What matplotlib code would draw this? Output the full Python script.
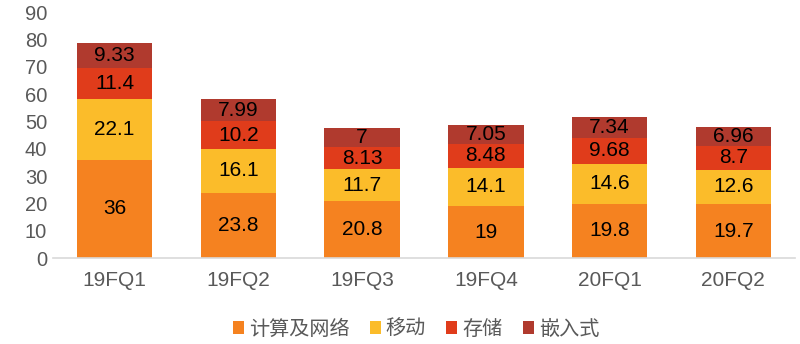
import matplotlib
matplotlib.use("Agg")
import matplotlib.pyplot as plt
import numpy as np

plt.rcParams['font.family'] = ['Liberation Sans', 'Noto Sans CJK SC', 'DejaVu Sans']

categories = ["19FQ1", "19FQ2", "19FQ3", "19FQ4", "20FQ1", "20FQ2"]
series_names = ["计算及网络", "移动", "存储", "嵌入式"]
compute = [36, 23.8, 20.8, 19, 19.8, 19.7]
mobile = [22.1, 16.1, 11.7, 14.1, 14.6, 12.6]
storage = [11.4, 10.2, 8.13, 8.48, 9.68, 8.7]
embedded = [9.33, 7.99, 7, 7.05, 7.34, 6.96]
label_texts = [
    ["36", "23.8", "20.8", "19", "19.8", "19.7"],
    ["22.1", "16.1", "11.7", "14.1", "14.6", "12.6"],
    ["11.4", "10.2", "8.13", "8.48", "9.68", "8.7"],
    ["9.33", "7.99", "7", "7.05", "7.34", "6.96"],
]
colors = ["#F58220", "#FBBC2A", "#E03C1B", "#B03A2E"]

fig = plt.figure(figsize=(8, 3.44), dpi=100)
ax = fig.add_axes([0.066, 0.25, 0.928, 0.715])

x = np.arange(len(categories))
bottom = np.zeros(len(categories))
handles = []
for vals, name, col, texts in zip([compute, mobile, storage, embedded], series_names, colors, label_texts):
    vals = np.array(vals, dtype=float)
    b = ax.bar(x, vals, width=0.61, bottom=bottom, color=col, label=name, linewidth=0)
    handles.append(b)
    for xi, v, bo, t in zip(x, vals, bottom, texts):
        ax.text(xi, bo + v / 2, t, ha="center", va="center", fontsize=15, color="black")
    bottom += vals

ax.set_ylim(0, 90)
ax.set_xlim(-0.5, len(categories) - 0.5)
ax.set_yticks(range(0, 91, 10))
ax.set_xticks(x)
ax.set_xticklabels(categories)
ax.tick_params(axis="y", length=0, labelsize=14.5, labelcolor="#595959", pad=4)
ax.tick_params(axis="x", length=0, labelsize=15, labelcolor="#595959", pad=9)
for s in ["top", "right", "left"]:
    ax.spines[s].set_visible(False)
ax.spines["bottom"].set_color("#D9D9D9")
ax.spines["bottom"].set_linewidth(1.2)

fig.legend(handles=handles, labels=series_names, loc="lower center",
           bbox_to_anchor=(0.52, -0.04), ncol=4, frameon=False,
           prop={"family": ["Noto Sans CJK SC"], "size": 14.5},
           handlelength=0.55, handleheight=0.55, handletextpad=0.25, columnspacing=1.0,
           labelcolor="#595959")

fig.savefig("out.png", dpi=100)
